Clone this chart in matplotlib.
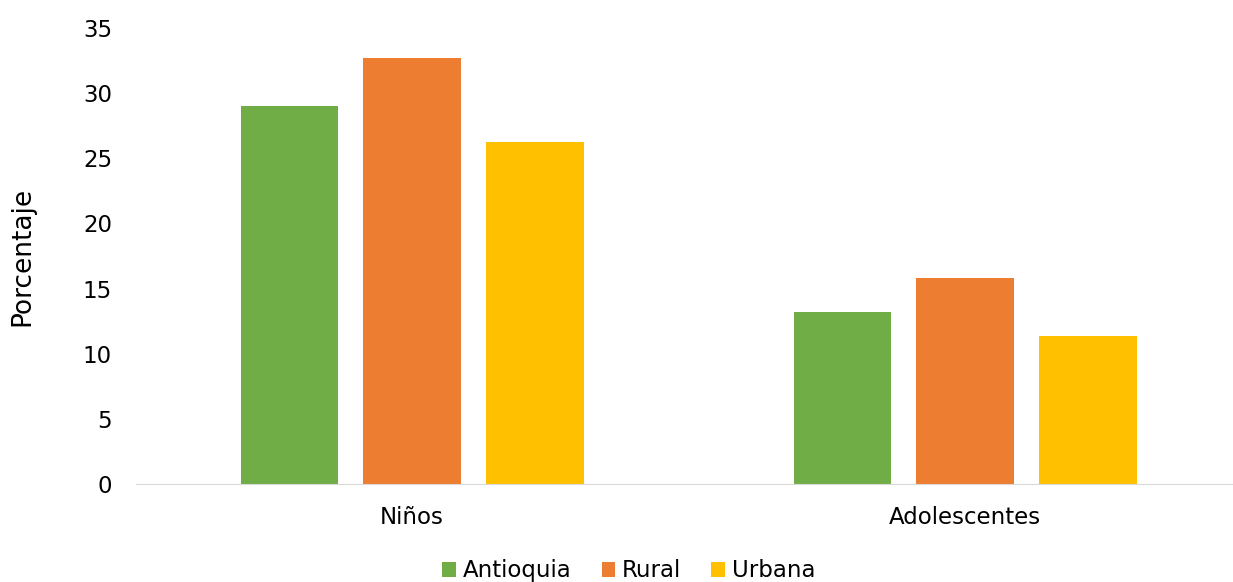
import matplotlib
matplotlib.use("Agg")
import matplotlib.pyplot as plt
import numpy as np

categories = ["Niños", "Adolescentes"]
series_names = ["Antioquia", "Rural", "Urbana"]
antioquia = [29.0, 13.2]
rural = [32.7, 15.8]
urbana = [26.25, 11.35]
colors = ["#70AD47", "#ED7D31", "#FFC000"]
yticks = [0, 5, 10, 15, 20, 25, 30, 35]

plt.rcParams['font.family'] = ['DejaVu Sans']
fig = plt.figure(figsize=(12.33, 5.82), dpi=100)
ax = fig.add_axes([0.110, 0.168, 0.897, 0.784])

x = np.arange(len(categories))
w = 0.176
step = 0.222
for i, (vals, name, c) in enumerate(zip([antioquia, rural, urbana], series_names, colors)):
    ax.bar(x + (i - 1) * step, vals, width=w, color=c, label=name)

ax.set_xlim(-0.5, 1.5)
ax.set_ylim(0, 35)
ax.set_yticks(yticks)
ax.set_xticks(x)
ax.set_xticklabels(categories)
ax.tick_params(axis='both', length=0, labelsize=16.5, colors='#000000')
ax.tick_params(axis='y', pad=17)
ax.tick_params(axis='x', pad=16)
for s in ['top', 'right', 'left']:
    ax.spines[s].set_visible(False)
ax.spines['bottom'].set_color('#D9D9D9')
ax.set_ylabel("Porcentaje", fontsize=19, labelpad=34)

fig.legend(loc='lower center', bbox_to_anchor=(0.51, -0.036), ncol=3, frameon=False,
           fontsize=16.5, handlelength=0.6, handleheight=0.6, handletextpad=0.3,
           columnspacing=1.3)

fig.savefig("out.png", dpi=100)
